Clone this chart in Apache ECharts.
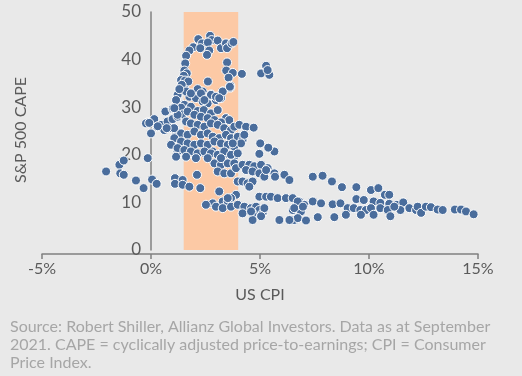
<!DOCTYPE html>
<html>
<head>
<meta charset="utf-8">
<script src="https://cdn.jsdelivr.net/npm/echarts@6/dist/echarts.min.js"></script>
<style>
  html, body { margin: 0; padding: 0; background: #e9e9e9; }
  #chart { width: 522px; height: 376px; }
</style>
</head>
<body>
<div id="chart"></div>
<script>
  // [US CPI %, S&P 500 CAPE] pairs
  const arcPoints = [
    [2.17, 44.3], [2.34, 43.4], [2.71, 45.0], [2.78, 44.1], [3.06, 44.0], [2.61, 43.6], [1.94, 42.6],
    [1.76, 41.9], [2.26, 42.4], [2.67, 41.9], [2.57, 41.0], [3.21, 42.4], [3.44, 43.4], [3.49, 42.4],
    [3.70, 43.4], [3.78, 43.7], [1.61, 40.8], [1.57, 39.2], [1.53, 37.7], [1.64, 37.1], [1.50, 36.6],
    [1.38, 35.7], [1.56, 35.6], [1.71, 35.4], [1.41, 34.7], [3.49, 39.4], [3.45, 37.7], [3.75, 37.2],
    [3.56, 36.2], [4.17, 37.0], [3.64, 34.5], [2.61, 35.4], [5.28, 38.7], [5.05, 37.1], [5.43, 36.8],
    [5.35, 37.8], [1.61, 33.3], [1.30, 33.8], [1.15, 31.5], [1.07, 29.8], [2.14, 33.8], [2.29, 32.9],
    [2.75, 32.6], [2.98, 32.2], [3.29, 33.3], [3.62, 34.3], [3.13, 31.9], [2.45, 31.5], [1.83, 32.9]
  ];

  const corePoints = [
    [1.38, 34.3], [1.53, 34.0], [2.14, 33.6], [2.37, 33.3], [2.75, 32.7], [3.03, 32.2], [3.29, 33.3],
    [3.64, 34.1], [1.22, 32.6], [1.76, 32.2], [2.06, 31.9], [2.37, 31.2], [1.22, 30.8], [1.53, 30.5],
    [2.60, 30.8], [2.98, 31.5], [3.21, 31.9], [0.66, 29.1], [0.99, 29.6], [1.38, 29.9], [1.83, 30.1],
    [2.14, 29.2], [2.42, 29.4], [2.75, 28.7], [3.06, 29.4], [3.44, 27.7], [3.59, 27.3], [-0.15, 26.8],
    [0.15, 27.5], [-0.23, 26.6], [0.0, 24.5], [0.28, 25.9], [0.46, 26.3], [0.76, 27.0], [0.99, 27.5],
    [1.22, 28.0], [1.45, 28.5], [1.68, 29.1], [1.99, 28.4], [2.29, 28.0], [2.60, 27.7], [2.91, 27.3],
    [3.21, 26.8], [1.61, 27.0], [1.83, 26.6], [2.14, 26.3], [2.45, 25.9], [2.75, 26.6], [3.06, 26.3],
    [3.36, 25.6], [3.67, 25.2], [3.82, 25.9], [4.05, 26.3], [4.36, 25.9], [4.71, 25.7], [0.61, 25.2],
    [0.92, 25.6], [1.15, 24.9], [1.38, 24.5], [1.68, 24.2], [1.99, 24.9], [2.29, 24.2], [2.60, 24.5],
    [2.83, 23.8], [3.13, 23.5], [3.44, 24.2], [3.67, 23.5], [3.98, 23.8], [4.20, 23.1], [1.07, 23.5],
    [1.38, 22.8], [1.68, 22.4], [1.99, 22.1], [2.29, 22.4], [2.60, 22.1], [2.91, 22.8], [3.21, 22.4],
    [3.52, 22.1], [3.82, 21.7], [0.92, 22.1], [1.22, 21.4], [1.53, 21.0], [1.83, 20.7], [2.14, 20.3],
    [2.45, 20.7], [2.75, 20.3], [3.06, 20.0], [3.36, 20.7], [3.67, 20.0], [3.98, 20.3], [1.15, 19.6],
    [1.61, 19.6], [2.06, 19.3], [2.60, 19.3], [3.21, 19.3], [-0.08, 26.7], [0.31, 26.0], [1.06, 25.6],
    [0.72, 25.6], [1.22, 28.4], [1.0, 29.8], [4.28, 24.2], [4.13, 22.4], [3.75, 22.4], [5.01, 22.4],
    [5.38, 21.5]
  ];

  const midPoints = [
    [1.22, 20.7], [1.61, 20.3], [1.99, 20.7], [2.45, 20.4], [2.83, 20.7], [3.21, 20.3], [3.52, 20.2],
    [3.82, 19.6], [4.97, 20.2], [5.66, 20.7], [2.91, 18.2], [3.21, 17.9], [3.52, 18.2], [3.82, 18.2],
    [3.06, 16.5], [3.36, 16.1], [3.67, 16.1], [3.90, 17.2], [4.20, 17.9], [4.51, 17.9], [4.74, 17.6],
    [5.05, 17.9], [5.35, 17.2], [5.66, 16.1], [6.12, 15.8], [6.35, 14.7], [4.36, 16.8], [4.66, 16.5],
    [4.97, 16.1], [5.20, 15.4], [5.28, 16.8], [5.69, 15.4], [1.10, 15.1], [1.45, 14.7], [1.10, 13.9],
    [1.45, 13.7], [1.76, 13.3], [2.11, 15.8], [2.26, 13.0], [3.13, 12.3], [3.98, 14.4], [4.20, 14.4],
    [4.43, 14.0], [4.66, 14.4], [4.51, 13.3]
  ];

  const lowPoints = [
    [3.90, 11.6], [3.67, 10.9], [3.29, 10.2], [3.52, 10.2], [2.83, 9.8], [2.52, 9.5], [2.98, 9.1],
    [3.29, 8.8], [3.67, 9.1], [3.98, 9.5], [4.28, 9.1], [4.59, 8.8], [4.82, 9.1], [4.97, 8.4],
    [4.20, 7.7], [4.66, 7.7], [5.12, 7.7], [4.66, 6.3], [4.97, 11.2], [5.28, 11.2], [5.50, 11.2],
    [5.81, 10.9], [6.19, 10.9], [6.50, 10.9], [6.73, 10.2], [6.57, 8.8], [5.89, 6.3], [6.35, 6.3],
    [5.20, 8.8], [3.52, 10.9], [5.05, 7.1], [4.59, 8.1], [6.97, 9.1]
  ];

  const tailPoints = [
    [7.42, 15.4], [7.87, 15.6], [8.30, 14.4], [8.76, 13.2], [9.42, 13.2], [10.09, 12.6], [10.43, 13.0],
    [10.73, 11.6], [10.93, 11.6], [9.42, 10.7], [9.76, 10.5], [10.21, 10.2], [10.52, 9.9], [10.93, 9.7],
    [11.28, 9.5], [11.57, 10.0], [11.85, 8.8], [6.80, 10.2], [7.03, 9.5], [7.42, 10.2], [7.80, 9.8],
    [8.33, 9.6], [8.69, 9.8], [9.02, 8.8], [9.30, 8.8], [9.60, 8.4], [9.86, 8.4], [10.09, 8.8],
    [10.52, 8.8], [10.86, 8.4], [6.50, 8.4], [6.73, 8.8], [6.88, 8.1], [6.57, 6.3], [6.73, 6.7],
    [7.11, 6.2], [7.65, 6.9], [8.41, 6.9], [8.94, 7.4], [9.63, 7.4], [10.21, 7.4], [10.98, 7.1],
    [11.44, 8.4], [11.16, 9.1], [12.16, 8.4], [12.23, 9.1], [12.39, 7.8], [12.61, 9.1], [12.84, 9.0],
    [13.15, 8.5], [13.38, 8.4], [13.94, 8.5], [14.22, 8.5], [14.45, 8.1], [14.80, 7.5]
  ];

  const leftPoints = [
    [-2.06, 16.5], [-1.45, 17.9], [-1.25, 18.8], [-1.41, 16.1], [-1.25, 15.8], [-0.69, 14.6],
    [-0.34, 13.0], [-0.15, 19.3], [0.05, 14.8], [0.26, 13.9]
  ];

  const bandX = [1.5, 4];
  const bandY = [0, 50.8];

  const footnote = [
    'Source: Robert Shiller, Allianz Global Investors. Data as at September',
    '2021. CAPE = cyclically adjusted price-to-earnings; CPI = Consumer',
    'Price Index.'
  ];

  const axisColor = '#808080';
  const labelColor = '#5a5a5a';
  const font = 'Lato, "Open Sans", sans-serif';

  const chart = echarts.init(document.getElementById('chart'));

  chart.setOption({
    backgroundColor: '#e9e9e9',
    animation: false,
    textStyle: { fontFamily: font },
    grid: { left: 42, right: 44, top: 12, bottom: 126, containLabel: false, outerBoundsMode: 'none' },
    xAxis: {
      type: 'value',
      min: -5,
      max: 15,
      interval: 5,
      offset: 4,
      name: 'US CPI',
      nameLocation: 'middle',
      nameGap: 33,
      nameTextStyle: { color: labelColor, fontSize: 16 },
      axisLine: { onZero: false, lineStyle: { color: axisColor, width: 1.5 } },
      axisTick: { show: true, length: 5, lineStyle: { color: axisColor, width: 1.5 } },
      axisLabel: { formatter: '{value}%', color: labelColor, fontSize: 16, margin: 7 },
      splitLine: { show: false },
    },
    yAxis: {
      type: 'value',
      min: 0,
      max: 50,
      interval: 10,
      // move the axis line and its labels in to the 0% position
      offset: -109,
      axisLine: { show: true, onZero: false, lineStyle: { color: axisColor, width: 1.5 } },
      axisTick: { show: false },
      axisLabel: { color: labelColor, fontSize: 17, margin: 10 },
      splitLine: { show: false },
    },
    series: [
      {
        type: 'scatter',
        clip: false,
        symbol: 'circle',
        symbolSize: 9,
        data: [].concat(leftPoints, tailPoints, lowPoints, midPoints, corePoints, arcPoints),
        itemStyle: { color: '#4a6d9c', borderColor: '#ffffff', borderWidth: 1, opacity: 1 },
        markArea: {
          silent: true,
          itemStyle: { color: '#fcc9a5' },
          data: [[{ xAxis: bandX[0], yAxis: bandY[0] }, { xAxis: bandX[1], yAxis: bandY[1] }]],
        },
        z: 2,
      },
    ],
    graphic: [
      {
        // y axis title
        type: 'text',
        x: 21,
        y: 130,
        rotation: Math.PI / 2,
        style: {
          text: 'S&P 500 CAPE',
          fill: labelColor,
          font: '16px ' + font,
          align: 'center',
          verticalAlign: 'middle',
        },
      },
      {
        type: 'text',
        left: 10,
        top: 318,
        style: {
          text: footnote.join('\n'),
          fill: '#a6a6a6',
          font: '16px ' + font,
          lineHeight: 18,
        },
      },
    ],
  });
</script>
</body>
</html>
